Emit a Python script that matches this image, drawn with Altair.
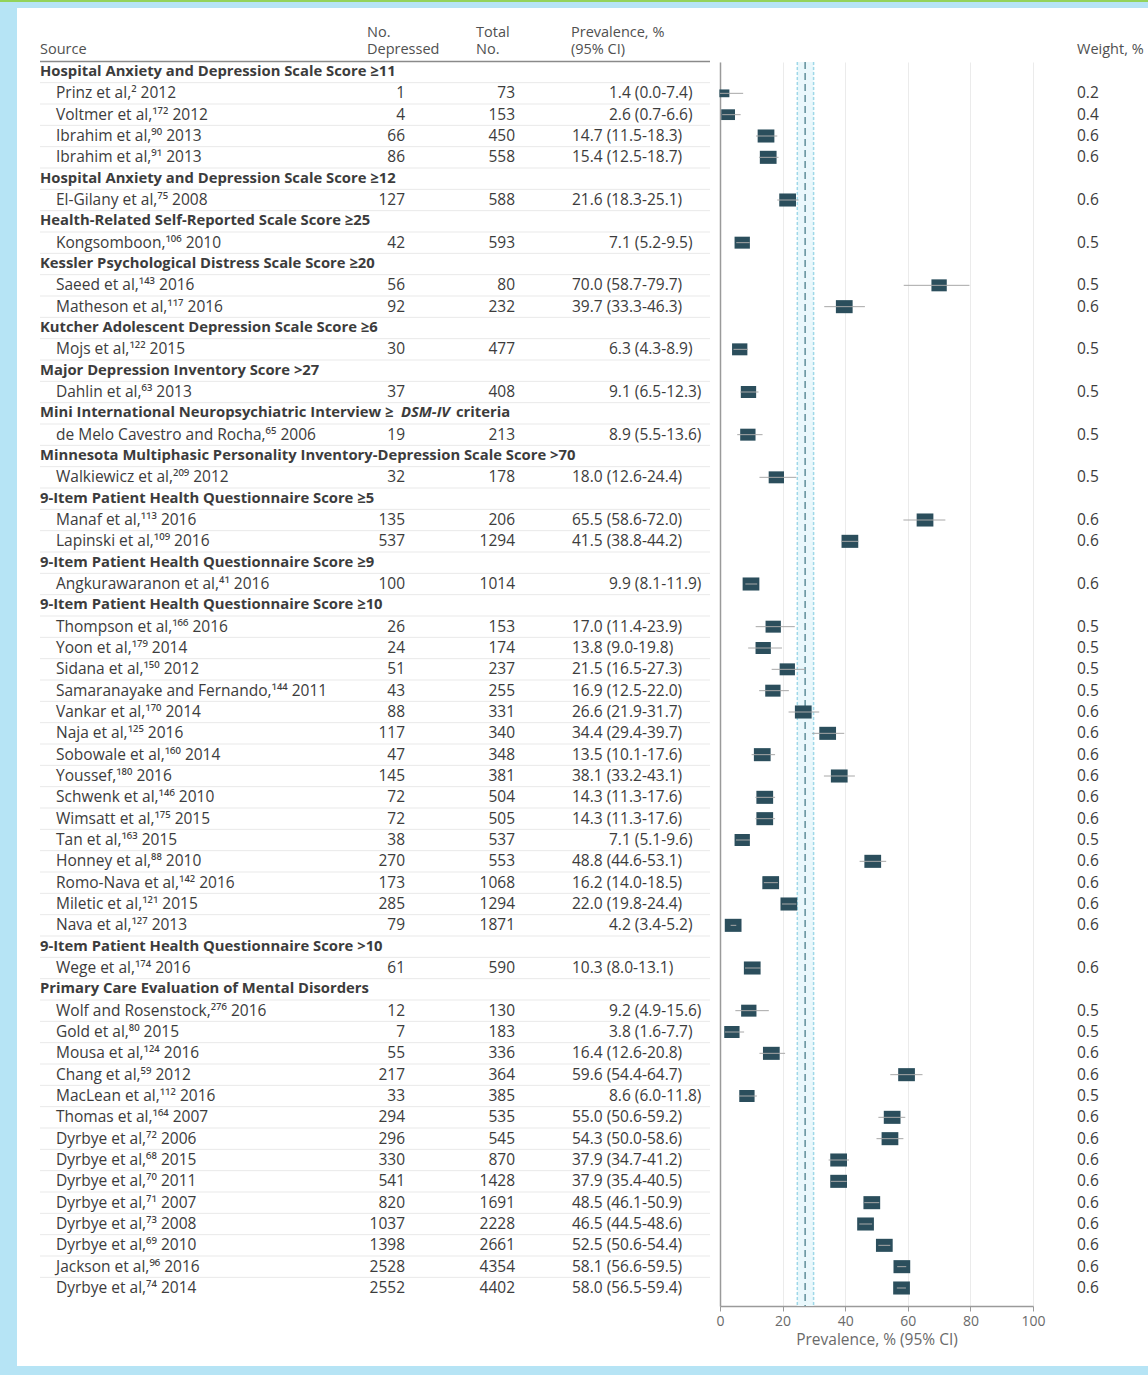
import altair as alt
import pandas as pd

# ---- study groups (screening instrument and cutoff) ----
group_names = [
    "Hospital Anxiety and Depression Scale Score ≥11",
    "Hospital Anxiety and Depression Scale Score ≥12",
    "Health-Related Self-Reported Scale Score ≥25",
    "Kessler Psychological Distress Scale Score ≥20",
    "Kutcher Adolescent Depression Scale Score ≥6",
    "Major Depression Inventory Score >27",
    "Mini International Neuropsychiatric Interview ≥ DSM-IV criteria",
    "Minnesota Multiphasic Personality Inventory-Depression Scale Score >70",
    "9-Item Patient Health Questionnaire Score ≥5",
    "9-Item Patient Health Questionnaire Score ≥9",
    "9-Item Patient Health Questionnaire Score ≥10",
    "9-Item Patient Health Questionnaire Score >10",
    "Primary Care Evaluation of Mental Disorders",
]
group_sizes = [4, 1, 1, 2, 1, 1, 1, 1, 2, 1, 15, 1, 14]

# ---- individual studies ----
study_names = [
    "Prinz et al", "Voltmer et al", "Ibrahim et al", "Ibrahim et al",
    "El-Gilany et al",
    "Kongsomboon",
    "Saeed et al", "Matheson et al",
    "Mojs et al",
    "Dahlin et al",
    "de Melo Cavestro and Rocha",
    "Walkiewicz et al",
    "Manaf et al", "Lapinski et al",
    "Angkurawaranon et al",
    "Thompson et al", "Yoon et al", "Sidana et al", "Samaranayake and Fernando",
    "Vankar et al", "Naja et al", "Sobowale et al", "Youssef", "Schwenk et al",
    "Wimsatt et al", "Tan et al", "Honney et al", "Romo-Nava et al",
    "Miletic et al", "Nava et al",
    "Wege et al",
    "Wolf and Rosenstock", "Gold et al", "Mousa et al", "Chang et al",
    "MacLean et al", "Thomas et al", "Dyrbye et al", "Dyrbye et al",
    "Dyrbye et al", "Dyrbye et al", "Dyrbye et al", "Dyrbye et al",
    "Jackson et al", "Dyrbye et al",
]
refs = [2, 172, 90, 91, 75, 106, 143, 117, 122, 63, 65, 209, 113, 109, 41,
        166, 179, 150, 144, 170, 125, 160, 180, 146, 175, 163, 88, 142, 121, 127,
        174, 276, 80, 124, 59, 112, 164, 72, 68, 70, 71, 73, 69, 96, 74]
years = [2012, 2012, 2013, 2013, 2008, 2010, 2016, 2016, 2015, 2013, 2006, 2012,
         2016, 2016, 2016, 2016, 2014, 2012, 2011, 2014, 2016, 2014, 2016, 2010,
         2015, 2015, 2010, 2016, 2015, 2013, 2016, 2016, 2015, 2016, 2012, 2016,
         2007, 2006, 2015, 2011, 2007, 2008, 2010, 2016, 2014]
depressed = [1, 4, 66, 86, 127, 42, 56, 92, 30, 37, 19, 32, 135, 537, 100,
             26, 24, 51, 43, 88, 117, 47, 145, 72, 72, 38, 270, 173, 285, 79,
             61, 12, 7, 55, 217, 33, 294, 296, 330, 541, 820, 1037, 1398, 2528, 2552]
total = [73, 153, 450, 558, 588, 593, 80, 232, 477, 408, 213, 178, 206, 1294, 1014,
         153, 174, 237, 255, 331, 340, 348, 381, 504, 505, 537, 553, 1068, 1294, 1871,
         590, 130, 183, 336, 364, 385, 535, 545, 870, 1428, 1691, 2228, 2661, 4354, 4402]
prevalence = [1.4, 2.6, 14.7, 15.4, 21.6, 7.1, 70.0, 39.7, 6.3, 9.1, 8.9, 18.0,
              65.5, 41.5, 9.9, 17.0, 13.8, 21.5, 16.9, 26.6, 34.4, 13.5, 38.1, 14.3,
              14.3, 7.1, 48.8, 16.2, 22.0, 4.2, 10.3, 9.2, 3.8, 16.4, 59.6, 8.6,
              55.0, 54.3, 37.9, 37.9, 48.5, 46.5, 52.5, 58.1, 58.0]
ci_low = [0.0, 0.7, 11.5, 12.5, 18.3, 5.2, 58.7, 33.3, 4.3, 6.5, 5.5, 12.6,
          58.6, 38.8, 8.1, 11.4, 9.0, 16.5, 12.5, 21.9, 29.4, 10.1, 33.2, 11.3,
          11.3, 5.1, 44.6, 14.0, 19.8, 3.4, 8.0, 4.9, 1.6, 12.6, 54.4, 6.0,
          50.6, 50.0, 34.7, 35.4, 46.1, 44.5, 50.6, 56.6, 56.5]
ci_high = [7.4, 6.6, 18.3, 18.7, 25.1, 9.5, 79.7, 46.3, 8.9, 12.3, 13.6, 24.4,
           72.0, 44.2, 11.9, 23.9, 19.8, 27.3, 22.0, 31.7, 39.7, 17.6, 43.1, 17.6,
           17.6, 9.6, 53.1, 18.5, 24.4, 5.2, 13.1, 15.6, 7.7, 20.8, 64.7, 11.8,
           59.2, 58.6, 41.2, 40.5, 50.9, 48.6, 54.4, 59.5, 59.4]
weights = [0.2, 0.4, 0.6, 0.6, 0.6, 0.5, 0.5, 0.6, 0.5, 0.5, 0.5, 0.5, 0.6, 0.6,
           0.6, 0.5, 0.5, 0.5, 0.5, 0.6, 0.6, 0.6, 0.6, 0.6, 0.6, 0.5, 0.6, 0.6,
           0.6, 0.6, 0.6, 0.5, 0.5, 0.6, 0.6, 0.5, 0.6, 0.6, 0.6, 0.6, 0.6, 0.6,
           0.6, 0.6, 0.6]

# pooled random-effects estimate and its 95% CI
pooled_est = 27.2
pooled_low = 24.7
pooled_high = 29.9

SUP = str.maketrans("0123456789", "⁰¹²³⁴⁵⁶⁷⁸⁹")
ITALIC_TERM = "DSM-IV"

# ---- build the row table ----
group_rows, study_rows = [], []
row = 1
i = 0
for name, size in zip(group_names, group_sizes):
    if ITALIC_TERM in name:
        pre, post = name.split(ITALIC_TERM)
        group_rows.append({"row": row, "label": pre.rstrip(), "ital": ITALIC_TERM,
                           "post": post.strip()})
    else:
        group_rows.append({"row": row, "label": name, "ital": "", "post": ""})
    row += 1
    for _ in range(size):
        study_rows.append({
            "row": row,
            "label": f"{study_names[i]},{str(refs[i]).translate(SUP)} {years[i]}",
            "dep": str(depressed[i]),
            "tot": str(total[i]),
            "prev": f"{prevalence[i]:.1f} ({ci_low[i]:.1f}-{ci_high[i]:.1f})",
            "est": prevalence[i],
            "lo": ci_low[i],
            "hi": ci_high[i],
            "w": weights[i],
            "wtxt": f"{weights[i]:.1f}",
        })
        row += 1
        i += 1
n_rows = row - 1

groups = pd.DataFrame(group_rows)
studies = pd.DataFrame(study_rows)
seps = pd.DataFrame({"row": [r + 0.5 for r in range(1, n_rows)]})
pooled = pd.DataFrame({"est": [pooled_est], "lo": [pooled_low], "hi": [pooled_high]})
one = pd.DataFrame({"k": [0]})

# ---- layout (plot area origin at left=720, top=62) ----
L, T = 720, 62
W, H = 313, 1244
PAGE_W, PAGE_H = 1148, 1375
STEP = (1288 - 72) / 57
r0 = 1 - (72 - T) / STEP
r1 = r0 + H / STEP

FONT = "Open Sans"
FS = 15.5
FS_B = 14.8
FS_H = 14.5
TXT = "#3c3c3c"
HEAD = "#505050"
FRAME = "#b6e4f5"

yenc = alt.Y("row:Q",
             scale=alt.Scale(domain=[r0, r1], reverse=True, nice=False, zero=False),
             axis=alt.Axis(domain=True, domainColor="#9a9a9a", domainWidth=1.5,
                           labels=False, ticks=False, grid=False, title=None))
xscale = alt.Scale(domain=[0, 100], nice=False, zero=False)
xaxis = alt.Axis(values=[0, 20, 40, 60, 80, 100], grid=True, gridColor="#ebebeb",
                 domainColor="#9a9a9a", domainWidth=1.5, tickColor="#9a9a9a", tickSize=5,
                 labelColor="#6a6a6a", labelFont=FONT, labelFontSize=14, labelPadding=3,
                 labelFlush=False,
                 title="Prevalence, % (95% CI)", titleColor="#6a6a6a", titleFont=FONT,
                 titleFontSize=15.5, titleFontWeight="normal", titlePadding=4)

def xv(px):
    return alt.value(px - L)

def yv(py):
    return alt.value(py - T)

# page framing: light blue strips round a white sheet
strips = [
    alt.Chart(one).mark_rect(color=FRAME).encode(x=xv(0), x2=xv(17), y=yv(0), y2=yv(PAGE_H)),
    alt.Chart(one).mark_rect(color=FRAME).encode(x=xv(0), x2=xv(PAGE_W), y=yv(0), y2=yv(8)),
    alt.Chart(one).mark_rect(color=FRAME).encode(x=xv(0), x2=xv(PAGE_W), y=yv(1366), y2=yv(PAGE_H)),
    alt.Chart(one).mark_rect(color="#93d35a").encode(x=xv(0), x2=xv(PAGE_W), y=yv(0), y2=yv(2)),
]

# table rules
sep_rules = alt.Chart(seps).mark_rule(color="#e9e9e9", strokeWidth=1).encode(
    y=yenc, x=xv(40), x2=xv(710))
head_rule = alt.Chart(one).mark_rule(color="#8a8a8a", strokeWidth=1.5).encode(
    y=yv(61.5), x=xv(40), x2=xv(710))

def head_text(text, px, py):
    return alt.Chart(one).mark_text(
        text=text, align="left", baseline="middle", font=FONT, fontSize=FS_H,
        color=HEAD).encode(x=xv(px), y=yv(py))

headers = [
    head_text("Source", 40, 50),
    head_text("No.", 367, 33), head_text("Depressed", 367, 50),
    head_text("Total", 476, 33), head_text("No.", 476, 50),
    head_text("Prevalence, %", 571, 33), head_text("(95% CI)", 571, 50),
    head_text("Weight, %", 1077, 50),
]

gbase = alt.Chart(groups).mark_text(
    align="left", baseline="middle", font=FONT, fontSize=FS_B, fontWeight="bold",
    color=TXT)
group_text = gbase.encode(x=xv(40), y=yenc, text="label:N")
group_ital = gbase.transform_filter("datum.ital != ''").mark_text(
    align="left", baseline="middle", font=FONT, fontSize=FS_B, fontWeight="bold",
    fontStyle="italic", color=TXT).encode(x=xv(401), y=yenc, text="ital:N")
group_post = gbase.transform_filter("datum.post != ''").encode(
    x=xv(456), y=yenc, text="post:N")

def col_text(field, px, align, data=studies):
    return alt.Chart(data).mark_text(
        align=align, baseline="middle", font=FONT, fontSize=FS, color=TXT).encode(
        x=xv(px), y=yenc, text=f"{field}:N")

label_text = col_text("label", 56, "left")
dep_text = col_text("dep", 405, "right")
tot_text = col_text("tot", 515, "right")
# two-digit estimates start at the column edge, one-digit ones are indented
prev_wide = col_text("prev", 572, "left").transform_filter("datum.est >= 10")
prev_narrow = col_text("prev", 609, "left").transform_filter("datum.est < 10")
w_text = col_text("wtxt", 1077, "left")

# forest plot
band = alt.Chart(pooled).mark_rect(color="#eaf8fc").encode(
    x=alt.X("lo:Q", scale=xscale, axis=xaxis), x2="hi:Q")
ci_bounds = alt.Chart(pooled).transform_fold(["lo", "hi"]).mark_rule(
    color="#9fd8e8", strokeWidth=1.5, strokeDash=[3, 2]).encode(
    x=alt.X("value:Q", scale=xscale, axis=xaxis))
est_line = alt.Chart(pooled).mark_rule(
    color="#5f8f9a", strokeWidth=1.5, strokeDash=[7, 4]).encode(
    x=alt.X("est:Q", scale=xscale, axis=xaxis))

BOX = "M-1,-0.78L1,-0.78L1,0.78L-1,0.78Z"
boxes = alt.Chart(studies).mark_point(
    shape=BOX, filled=True, color="#2b4e5c", opacity=1).encode(
    x=alt.X("est:Q", scale=xscale, axis=xaxis), y=yenc,
    size=alt.Size("w:Q", scale=alt.Scale(domain=[0.2, 0.6], range=[100, 280]), legend=None))
ci_lines = alt.Chart(studies).mark_rule(color="#a8a8a8", strokeWidth=1).encode(
    x=alt.X("lo:Q", scale=xscale, axis=xaxis), x2="hi:Q", y=yenc)

chart = alt.layer(
    *strips, sep_rules, head_rule, *headers,
    band, ci_bounds, est_line, boxes, ci_lines,
    group_text, group_ital, group_post,
    label_text, dep_text, tot_text, prev_wide, prev_narrow, w_text,
).properties(
    width=W, height=H,
    padding={"left": L, "top": T, "right": PAGE_W - L - W, "bottom": PAGE_H - T - H},
    autosize=alt.AutoSizeParams(type="none"),
    background="#ffffff",
).configure_view(stroke=None)

chart.save("out.html", embed_options={"renderer": "svg", "actions": False})
